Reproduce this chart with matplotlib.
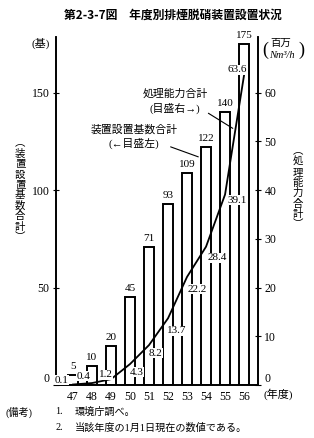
import numpy as np
import matplotlib
matplotlib.use("Agg")
import matplotlib.pyplot as plt

plt.rcParams['font.family'] = ['Liberation Serif', 'Noto Sans CJK JP']

# data
years = [47, 48, 49, 50, 51, 52, 53, 54, 55, 56]
units = [5, 10, 20, 45, 71, 93, 109, 122, 140, 175]          # 装置設置基数合計 (基)
capacity = [0.1, 0.4, 1.2, 4.3, 8.2, 13.7, 22.2, 28.4, 39.1, 63.6]  # 処理能力合計 (百万Nm3/h)
# label offsets (points) for the capacity values
cap_offsets = [(-8, 3), (-6, 5), (-4, 3), (5, -6), (5, -6),
               (6, -9), (7, -9), (8, -8), (9, -4), (-5, 4)]

fig = plt.figure(figsize=(3.14, 4.38), dpi=100)
ax = fig.add_axes([0.178, 0.121, 0.644, 0.795])
ax2 = ax.twinx()

bw = 0.53
ax.bar(years, units, width=bw, facecolor='white', edgecolor='black', linewidth=1.4, zorder=2)
for x, v in zip(years, units):
    ax.text(x, v + 2, str(v), ha='center', va='bottom', fontsize=8)

ax2.plot(years, capacity, color='black', linewidth=1.3, zorder=3)
for x, v, (dx, dy) in zip(years, capacity, cap_offsets):
    ax2.annotate(f"{v:.1f}", (x, v), xytext=(dx, dy), textcoords='offset points',
                 ha='center', va='center', fontsize=8,
                 bbox=dict(facecolor='white', edgecolor='none', pad=0.3))

ax.set_xlim(46.1, 56.74)
ax.set_ylim(0, 178.7)
ax2.set_ylim(0, 71.5)
ax.set_xticks(years)
ax.set_xticklabels([str(y) for y in years], fontsize=8.5)
ax.tick_params(axis='x', length=0, pad=4)
ax.set_yticks([0, 50, 100, 150])
ax.tick_params(axis='y', direction='inout', length=5, labelsize=8.5, pad=2)
ax2.set_yticks([0, 10, 20, 30, 40, 50, 60])
ax2.tick_params(axis='y', direction='inout', length=5, labelsize=8.5, pad=2)
# raise the two "0" labels a little, as in the reference
ax.get_yticklabels()[0].set_verticalalignment('bottom')
ax2.get_yticklabels()[0].set_verticalalignment('bottom')
for a in (ax, ax2):
    a.spines['top'].set_visible(False)
    for s in ('left', 'right', 'bottom'):
        a.spines[s].set_linewidth(1.2)
ax.patch.set_visible(False)

# annotations with leader lines
ax2.annotate("", xy=(55.53, 52.4), xytext=(54.0, 56.1),
             arrowprops=dict(arrowstyle='-', color='black', linewidth=0.8))
ax2.text(52.37, 58.2, "処理能力合計\n(目盛右→)", ha='center', va='center',
         fontsize=7.8, linespacing=1.4)
ax.annotate("", xy=(53.73, 116.6), xytext=(52.0, 122.7),
            arrowprops=dict(arrowstyle='-', color='black', linewidth=0.8))
ax.text(50.2, 127.5, "装置設置基数合計\n(←目盛左)", ha='center', va='center',
        fontsize=7.8, linespacing=1.4)

# titles and unit labels
fig.text(0.55, 0.966, "第2-3-7図　年度別排煙脱硝装置設置状況", ha='center', va='center',
         fontsize=8.5, fontweight='bold', family=['Noto Sans CJK JP'])
fig.text(41 / 314, 1 - 43 / 438, "(基)", ha='center', va='center', fontsize=8)
fig.text(265 / 314, 1 - 50 / 438, "(", ha='center', va='center', fontsize=13)
fig.text(301 / 314, 1 - 50 / 438, ")", ha='center', va='center', fontsize=13)
fig.text(281 / 314, 1 - 43 / 438, "百万", ha='center', va='center', fontsize=7.5)
fig.text(282 / 314, 1 - 56 / 438, "Nm³/h", ha='center', va='center', fontsize=7.5, style='italic')

left_label = "︵装置設置基数合計︶"
right_label = "︵処理能力合計︶"
fig.text(20 / 314, 1 - 190 / 438, "\n".join(left_label), ha='center', va='center',
         fontsize=7.5, linespacing=1.05, family=['Noto Sans CJK JP'])
fig.text(298 / 314, 1 - 188 / 438, "\n".join(right_label), ha='center', va='center',
         fontsize=7.5, linespacing=1.05, family=['Noto Sans CJK JP'])
fig.text(278 / 314, 1 - 394 / 438, "(年度)", ha='center', va='center', fontsize=8)

# notes
fig.text(6 / 314, 1 - 412 / 438, "(備考)", ha='left', va='center', fontsize=7.3)
fig.text(55 / 314, 1 - 412 / 438, "1.", ha='left', va='center', fontsize=7.3)
fig.text(75 / 314, 1 - 412 / 438, "環境庁調べ。", ha='left', va='center', fontsize=7.3)
fig.text(55 / 314, 1 - 428 / 438, "2.", ha='left', va='center', fontsize=7.3)
fig.text(75 / 314, 1 - 428 / 438, "当該年度の1月1日現在の数値である。", ha='left', va='center', fontsize=7.3)

fig.savefig("out.png", dpi=100)
